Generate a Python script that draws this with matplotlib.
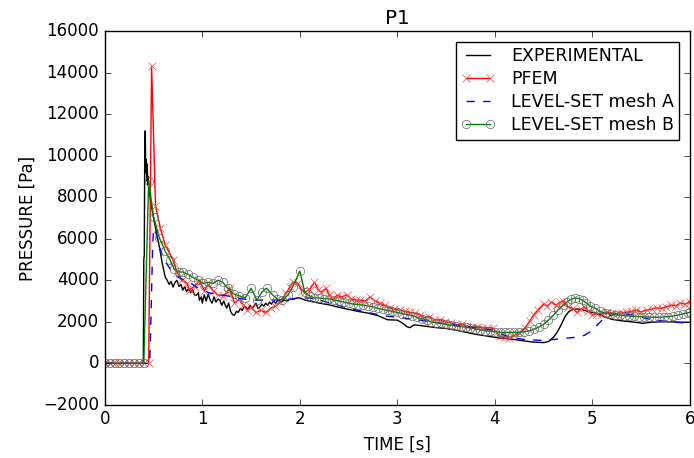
import matplotlib
matplotlib.use('Agg')
import matplotlib.pyplot as plt

plt.style.use('classic')

# experimental record
t_exp = [0.0, 0.39, 0.395, 0.40, 0.405, 0.41, 0.415, 0.42, 0.425, 0.43, 0.435, 0.44, 0.445, 0.45,
         0.47, 0.50, 0.53, 0.56, 0.59, 0.62, 0.64, 0.66, 0.68, 0.70, 0.72, 0.74, 0.76, 0.78, 0.80,
         0.82, 0.84, 0.86, 0.88, 0.90, 0.92, 0.94, 0.96, 0.97, 0.99, 1.00, 1.02, 1.04, 1.06, 1.08,
         1.10, 1.12, 1.14, 1.16, 1.18, 1.20, 1.22, 1.24, 1.25, 1.27, 1.29, 1.31, 1.33, 1.35, 1.37,
         1.39, 1.41, 1.43, 1.45, 1.47, 1.49, 1.51, 1.53, 1.55, 1.57, 1.59, 1.61, 1.63, 1.65, 1.67,
         1.69, 1.71, 1.73, 1.75, 1.78, 1.81, 1.84, 1.87, 1.90, 1.94, 1.97, 2.00, 2.05, 2.10, 2.2,
         2.3, 2.4, 2.5, 2.6, 2.7, 2.8, 2.9, 3.0, 3.05, 3.1, 3.13, 3.17, 3.22, 3.3, 3.4, 3.5, 3.6,
         3.7, 3.8, 3.9, 4.0, 4.1, 4.2, 4.3, 4.4, 4.5, 4.55, 4.6, 4.64, 4.68, 4.72, 4.76, 4.8, 4.85,
         4.9, 4.97, 5.05, 5.12, 5.2, 5.3, 5.4, 5.52, 5.6, 5.7, 5.8, 5.9, 6.0]
p_exp = [0, 0, 0, 5000, 5200, 10800, 11200, 9200, 9800, 8800, 9600, 8600, 9000, 8500,
         7800, 7000, 6300, 5600, 4800, 4150, 4000, 3800, 3950, 3670, 3900, 4000, 3700, 3800, 3530,
         3700, 3450, 3600, 3400, 3550, 3300, 3280, 3400, 3040, 3200, 2900, 3300, 3000, 3350, 3050,
         2900, 3200, 2950, 3100, 3040, 2800, 3000, 2750, 2660, 2900, 2500, 2350, 2320, 2500, 2460,
         2650, 2550, 2750, 2700, 2600, 2800, 2650, 2750, 2900, 2650, 2700, 2850, 2750, 2900, 2800,
         2950, 2850, 3000, 2900, 3050, 2950, 3050, 3000, 3080, 3100, 3150, 3150, 3050, 3000, 2900,
         2820, 2700, 2600, 2500, 2420, 2300, 2100, 2080, 1950, 1760, 1720, 1850, 1830, 1780, 1720,
         1680, 1600, 1500, 1400, 1330, 1250, 1200, 1150, 1080, 1020, 1000, 1050, 1250, 1500, 1850,
         2250, 2500, 2600, 2620, 2580, 2480, 2400, 2250, 2120, 2050, 2000, 1930, 1980, 2000, 2000,
         1980, 1980]

# PFEM
t_pfem = [0.0, 0.05, 0.10, 0.15, 0.20, 0.25, 0.30, 0.35, 0.40, 0.45, 0.48, 0.52, 0.57, 0.62,
          0.70, 0.74, 0.79, 0.84, 0.87, 0.92, 0.97, 1.02, 1.06, 1.11, 1.16, 1.21, 1.25, 1.28,
          1.33, 1.38, 1.42, 1.46, 1.50, 1.55, 1.60, 1.65, 1.70, 1.75, 1.80, 1.86, 1.90, 1.93,
          1.98, 2.02, 2.05, 2.10, 2.15, 2.19, 2.22, 2.27, 2.30, 2.34, 2.38, 2.43, 2.48, 2.53,
          2.58, 2.62, 2.67, 2.72, 2.77, 2.82, 2.87, 2.92, 2.97, 3.03, 3.08, 3.13, 3.18, 3.23,
          3.28, 3.33, 3.38, 3.44, 3.49, 3.55, 3.61, 3.66, 3.71, 3.77, 3.82, 3.87, 3.92, 3.98,
          4.02, 4.05, 4.10, 4.15, 4.20, 4.26, 4.31, 4.36, 4.40, 4.44, 4.50, 4.54, 4.58, 4.63,
          4.67, 4.70, 4.75, 4.80, 4.84, 4.88, 4.92, 4.96, 5.00, 5.05, 5.10, 5.15, 5.20, 5.25,
          5.30, 5.35, 5.40, 5.45, 5.50, 5.56, 5.61, 5.66, 5.71, 5.76, 5.81, 5.86, 5.90, 5.95, 6.00]
p_pfem = [0, 0, 0, 0, 0, 0, 0, 0, 0, 0, 14300, 7600, 6500, 5700,
          4980, 4400, 4000, 3850, 3550, 3700, 4000, 3500, 3800, 3500, 3300, 3250, 3400, 3650,
          2900, 3100, 2800, 2560, 2700, 2450, 2550, 2450, 2650, 2750, 2950, 3380, 3700, 3910,
          3860, 3500, 3430, 3550, 3910, 3530, 3430, 3620, 3300, 3050, 3280, 3200, 3300, 3100,
          3050, 3050, 3000, 3200, 3000, 2900, 2800, 2680, 2600, 2560, 2500, 2450, 2420, 2350,
          2200, 2250, 2100, 2080, 2000, 1950, 1850, 1880, 1780, 1740, 1760, 1700, 1720, 1690,
          1500, 1300, 1250, 1200, 1350, 1480, 1700, 2050, 2350, 2560, 2850, 2750, 2950, 2800,
          2950, 3000, 2700, 2650, 2450, 2600, 2700, 2500, 2320, 2400, 2380, 2460, 2420, 2380,
          2430, 2460, 2500, 2560, 2480, 2560, 2620, 2680, 2650, 2720, 2800, 2780, 2900, 2850, 2950]

# level-set, coarse mesh A
t_lsa = [0.0, 0.46, 0.47, 0.49, 0.50, 0.53, 0.56, 0.60, 0.63, 0.70, 0.75, 0.87, 0.95, 1.08,
         1.2, 1.31, 1.42, 1.52, 1.65, 1.8, 1.9, 2.0, 2.1, 2.2, 2.35, 2.51, 2.7, 2.85, 3.03, 3.2,
         3.35, 3.54, 3.75, 3.98, 4.05, 4.15, 4.3, 4.5, 4.67, 4.84, 4.92, 4.97, 5.03, 5.1, 5.18,
         5.25, 5.32, 5.45, 5.56, 5.66, 5.8, 6.0]
p_lsa = [0, 0, 1500, 5500, 6500, 6200, 5600, 5100, 4830, 4350, 4150, 3900, 3650, 3380,
         3300, 3200, 3100, 3040, 3050, 3050, 3100, 3150, 3150, 3050, 2850, 2650, 2450, 2300, 2200, 2100,
         2000, 1880, 1750, 1600, 1450, 1260, 1150, 1100, 1180, 1260, 1350, 1500, 1750, 2080, 2300,
         2380, 2400, 2300, 2150, 2080, 2000, 1930]

# level-set, fine mesh B
t_lsb = [0.0, 0.05, 0.10, 0.15, 0.20, 0.25, 0.30, 0.35, 0.40, 0.45, 0.50, 0.56, 0.62, 0.67,
         0.71, 0.76, 0.80, 0.85, 0.90, 0.96, 1.01, 1.06, 1.11, 1.16, 1.21, 1.26, 1.32, 1.38,
         1.44, 1.50, 1.56, 1.61, 1.66, 1.72, 1.77, 1.82, 1.88, 1.93, 2.00, 2.05, 2.10, 2.15,
         2.20, 2.25, 2.30, 2.35, 2.40, 2.45, 2.50, 2.55, 2.60, 2.65, 2.70, 2.75, 2.80, 2.85,
         2.90, 2.95, 3.00, 3.05, 3.10, 3.15, 3.20, 3.25, 3.30, 3.35, 3.40, 3.45, 3.50, 3.55,
         3.60, 3.65, 3.70, 3.75, 3.80, 3.85, 3.90, 3.95, 4.00, 4.05, 4.10, 4.15, 4.20, 4.25,
         4.30, 4.35, 4.40, 4.45, 4.50, 4.55, 4.60, 4.65, 4.70, 4.74, 4.78, 4.82, 4.86, 4.90,
         4.94, 4.98, 5.03, 5.08, 5.13, 5.18, 5.23, 5.28, 5.33, 5.38, 5.43, 5.48, 5.53, 5.58,
         5.63, 5.68, 5.73, 5.78, 5.83, 5.88, 5.93, 5.98, 6.00]
p_lsb = [0, 0, 0, 0, 0, 0, 0, 0, 0, 8800, 7050, 6040, 5400, 4980,
         4550, 4400, 4400, 4300, 4150, 4000, 3850, 3900, 3850, 4000, 3900, 3620, 3350, 3250,
         3150, 3620, 3040, 3430, 3620, 3300, 3100, 3050, 3300, 3700, 4450, 3430, 3250, 3150,
         3150, 3120, 3100, 3050, 3000, 2950, 2900, 2850, 2830, 2800, 2760, 2720, 2650, 2600,
         2550, 2500, 2450, 2400, 2350, 2300, 2220, 2150, 2080, 2000, 1960, 1920, 1880, 1840,
         1800, 1770, 1740, 1700, 1660, 1620, 1580, 1550, 1520, 1500, 1490, 1490, 1490, 1500,
         1520, 1560, 1640, 1740, 1880, 2080, 2320, 2580, 2800, 2950, 3080, 3150, 3120, 3040,
         2900, 2760, 2650, 2500, 2420, 2380, 2350, 2320, 2300, 2280, 2260, 2250, 2240, 2230,
         2220, 2220, 2230, 2250, 2280, 2330, 2380, 2440, 2460]

fig, ax = plt.subplots(figsize=(6.94, 4.58), dpi=100)
fig.subplots_adjust(left=0.151, right=0.994, top=0.932, bottom=0.116)

ax.plot(t_exp, p_exp, 'k-', lw=1, label='EXPERIMENTAL')
ax.plot(t_pfem, p_pfem, 'r-x', lw=1, mec=(1, 0.3, 0.3), mew=0.5, label='PFEM')
ax.plot(t_lsa, p_lsa, 'b--', lw=1, label='LEVEL-SET mesh A')
ax.plot(t_lsb, p_lsb, 'g-o', lw=1, mfc='none', mec='0.4', mew=0.5, label='LEVEL-SET mesh B')

ax.set_xlim(0, 6)
ax.set_ylim(-2000, 16000)
ax.set_yticks(range(-2000, 16001, 2000))
ax.set_xlabel('TIME [s]')
ax.set_ylabel('PRESSURE [Pa]')
ax.set_title('P1')
ax.legend(loc='upper right', numpoints=2, fontsize=12.5, labelspacing=0.3,
          borderpad=0.3, handletextpad=0.9, borderaxespad=0.6)

fig.savefig('out.png', dpi=100, facecolor='white')
